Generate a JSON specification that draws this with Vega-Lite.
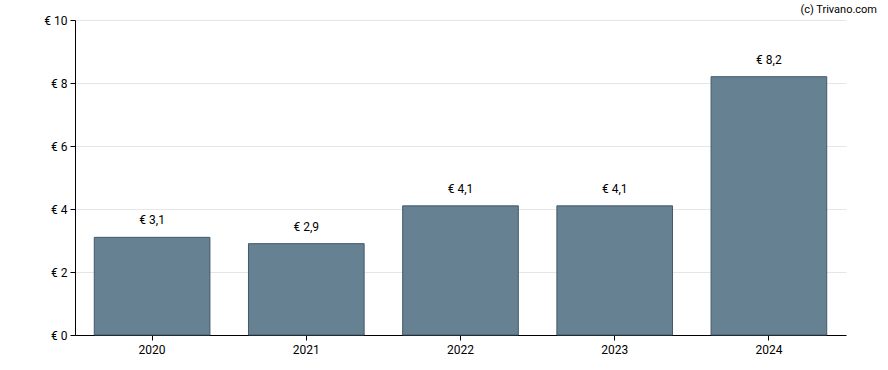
{
  "$schema": "https://vega.github.io/schema/vega-lite/v6.json",
  "width": 771,
  "height": 315,
  "autosize": {"type": "none"},
  "padding": {"left": 75, "top": 20, "right": 42, "bottom": 35},
  "background": "white",
  "title": {
    "text": "(c) Trivano.com",
    "anchor": "end",
    "frame": "group",
    "orient": "top",
    "dx": 31,
    "dy": 12,
    "offset": 0,
    "baseline": "bottom",
    "font": "Roboto",
    "fontSize": 11,
    "fontWeight": "normal",
    "color": "#000000"
  },
  "config": {
    "view": {"stroke": null},
    "font": "Roboto"
  },
  "data": {
    "values": [
      {"year": "2020", "value": 3.1},
      {"year": "2021", "value": 2.9},
      {"year": "2022", "value": 4.1},
      {"year": "2023", "value": 4.1},
      {"year": "2024", "value": 8.2}
    ]
  },
  "transform": [
    {"calculate": "'€ ' + replace(format(datum.value, '.1f'), '.', ',')", "as": "label"}
  ],
  "encoding": {
    "x": {
      "field": "year",
      "type": "ordinal",
      "scale": {"paddingInner": 0.25, "paddingOuter": 0.125},
      "axis": {
        "title": null,
        "labelAngle": 0,
        "labelFont": "Roboto",
        "labelFontSize": 12,
        "labelColor": "#000000",
        "domainColor": "#000000",
        "tickColor": "#000000",
        "tickSize": 5,
        "labelPadding": 4
      }
    },
    "y": {
      "field": "value",
      "type": "quantitative",
      "scale": {"domain": [0, 10], "nice": false},
      "axis": {
        "title": null,
        "values": [0, 2, 4, 6, 8, 10],
        "labelExpr": "'€ ' + datum.value",
        "labelFont": "Roboto",
        "labelFontSize": 12,
        "labelColor": "#000000",
        "domainColor": "#000000",
        "tickColor": "#000000",
        "tickSize": 5,
        "labelPadding": 3,
        "gridColor": "#e6e6e6",
        "grid": true
      }
    }
  },
  "layer": [
    {
      "mark": {"type": "bar", "color": "#668191", "stroke": "#44596a", "strokeWidth": 1}
    },
    {
      "mark": {"type": "text", "baseline": "bottom", "dy": -10, "font": "Roboto", "fontSize": 12, "color": "#000000"},
      "encoding": {"text": {"field": "label"}}
    }
  ]
}
